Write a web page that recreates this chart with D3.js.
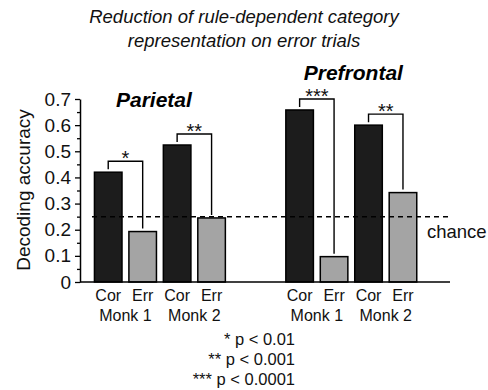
<!DOCTYPE html>
<html>
<head>
<meta charset="utf-8">
<script src="https://cdn.jsdelivr.net/npm/d3@7"></script>
<style>
  html, body { margin: 0; padding: 0; background: #fff; }
  svg { display: block; font-family: "Liberation Sans", Arial, Helvetica, sans-serif; }
</style>
</head>
<body>
<svg id="chart" width="488" height="390"></svg>
<script>
// Decoding accuracy for correct vs. error trials, per monkey and brain region
const regions = ["Parietal", "Prefrontal"];
const monkeys = ["Monk 1", "Monk 2"];
const trialTypes = ["Cor", "Err"];
const parietalValues = [0.42, 0.193, 0.524, 0.245];   // M1 Cor, M1 Err, M2 Cor, M2 Err
const prefrontalValues = [0.658, 0.097, 0.60, 0.342];
const significance = {Parietal: ["*", "**"], Prefrontal: ["***", "**"]};
const chanceLevel = 0.25;
const yTicks = [0, 0.1, 0.2, 0.3, 0.4, 0.5, 0.6, 0.7];
const yMinorTicks = [0.05, 0.15, 0.25, 0.35, 0.45, 0.55, 0.65];
const footnotes = ["* p < 0.01", "** p < 0.001", "*** p < 0.0001"];

const valuesByRegion = {Parietal: parietalValues, Prefrontal: prefrontalValues};
const barKeys = [];
monkeys.forEach(m => trialTypes.forEach(t => barKeys.push(m + "|" + t)));

const bars = [];
regions.forEach(r => valuesByRegion[r].forEach((v, i) => {
  const [monk, trial] = barKeys[i].split("|");
  bars.push({region: r, key: barKeys[i], monk, trial, value: v});
}));

const svg = d3.select("#chart");
const baseY = 282, topY = 99, axisX = 80, axisEnd = 450;

const y = d3.scaleLinear().domain([0, 0.7]).range([baseY, topY]);
const xRegion = d3.scaleBand().domain(regions).range([91, 420.2]).paddingInner(0.28).paddingOuter(0);
const xBar = d3.scaleBand().domain(barKeys).range([0, xRegion.bandwidth()]).paddingInner(0.2).paddingOuter(0.1);
const barX = d => xRegion(d.region) + xBar(d.key);
const barCx = d => barX(d) + xBar.bandwidth() / 2;

// Title
const title = svg.append("g").attr("font-style", "italic").attr("font-size", 18.5)
  .attr("fill", "#111").attr("text-anchor", "middle");
title.append("text").attr("x", 244).attr("y", 23).text("Reduction of rule-dependent category");
title.append("text").attr("x", 244).attr("y", 47).text("representation on error trials");

// Bars
svg.append("g").selectAll("rect").data(bars).join("rect")
  .attr("x", barX)
  .attr("y", d => y(d.value))
  .attr("width", xBar.bandwidth())
  .attr("height", d => y(0) - y(d.value))
  .attr("fill", d => d.trial === "Cor" ? "#1c1c1c" : "#a4a4a4")
  .attr("stroke", "#000")
  .attr("stroke-width", 1.5);

// Chance line
svg.append("line")
  .attr("x1", 92).attr("x2", axisEnd)
  .attr("y1", y(chanceLevel)).attr("y2", y(chanceLevel))
  .attr("stroke", "#000").attr("stroke-width", 1.5).attr("stroke-dasharray", "5,4");
svg.append("text").attr("x", 427).attr("y", 237.5).attr("font-size", 18.5).attr("fill", "#111").text("chance");

// Baseline
svg.append("line").attr("x1", axisX).attr("x2", axisEnd).attr("y1", baseY).attr("y2", baseY)
  .attr("stroke", "#000").attr("stroke-width", 1.5);

// Y axis with major and minor ticks
const yAxis = svg.append("g").attr("transform", `translate(${axisX},0)`)
  .call(d3.axisLeft(y).tickValues(yTicks).tickSize(5).tickSizeOuter(0).tickPadding(4)
    .tickFormat(d => d === 0 ? "0" : d3.format(".1f")(d)));
yAxis.select(".domain").attr("stroke-width", 1.5);
yAxis.selectAll(".tick line").attr("stroke-width", 1.3);
yAxis.selectAll("text").attr("font-size", 19).attr("fill", "#111").attr("font-family", null);
const yMinor = svg.append("g").attr("transform", `translate(${axisX},0)`)
  .call(d3.axisLeft(y).tickValues(yMinorTicks).tickSize(3).tickFormat(""));
yMinor.select(".domain").remove();
yMinor.selectAll(".tick line").attr("stroke-width", 1.3);

svg.append("text")
  .attr("transform", "translate(30,190) rotate(-90)")
  .attr("text-anchor", "middle").attr("font-size", 19).attr("fill", "#111")
  .text("Decoding accuracy");

// Region labels
svg.append("text").attr("x", xRegion("Parietal") + xRegion.bandwidth() / 2 - 6).attr("y", 106.5)
  .attr("text-anchor", "middle").attr("font-size", 21).attr("font-weight", "bold").attr("font-style", "italic")
  .text("Parietal");
svg.append("text").attr("x", xRegion("Prefrontal") + xRegion.bandwidth() / 2 + 2).attr("y", 80)
  .attr("text-anchor", "middle").attr("font-size", 21).attr("font-weight", "bold").attr("font-style", "italic")
  .text("Prefrontal");

// Significance brackets
const brackets = [];
regions.forEach(r => monkeys.forEach((m, mi) => {
  const cor = bars.find(b => b.region === r && b.monk === m && b.trial === "Cor");
  const err = bars.find(b => b.region === r && b.monk === m && b.trial === "Err");
  brackets.push({cor, err, label: significance[r][mi]});
}));
const bg = svg.append("g");
bg.selectAll("path").data(brackets).join("path")
  .attr("fill", "none").attr("stroke", "#000").attr("stroke-width", 1.4)
  .attr("d", d => {
    const x1 = barCx(d.cor), x2 = barCx(d.err);
    const top = y(d.cor.value) - 11;
    return `M${x1},${y(d.cor.value) - 3}V${top}H${x2}V${y(d.err.value) - 3}`;
  });
bg.selectAll("text").data(brackets).join("text")
  .attr("x", d => (barCx(d.cor) + barCx(d.err)) / 2)
  .attr("y", d => y(d.cor.value) - 11 + 4)
  .attr("text-anchor", "middle").attr("font-size", 20).attr("fill", "#111")
  .text(d => d.label);

// Category labels
svg.append("g").selectAll("text").data(bars).join("text")
  .attr("x", barCx).attr("y", 300.5)
  .attr("text-anchor", "middle").attr("font-size", 16).attr("fill", "#111")
  .text(d => d.trial);
const monkLabels = [];
regions.forEach(r => monkeys.forEach(m => monkLabels.push({region: r, monk: m})));
svg.append("g").selectAll("text").data(monkLabels).join("text")
  .attr("x", d => xRegion(d.region) + (xBar(d.monk + "|Cor") + xBar(d.monk + "|Err") + xBar.bandwidth()) / 2)
  .attr("y", 320.5)
  .attr("text-anchor", "middle").attr("font-size", 16).attr("fill", "#111")
  .text(d => d.monk);

// Significance legend
svg.append("g").selectAll("text").data(footnotes).join("text")
  .attr("x", 295).attr("y", (d, i) => 345.3 + i * 19.7)
  .attr("text-anchor", "end").attr("font-size", 16.5).attr("fill", "#111")
  .text(d => d);
</script>
</body>
</html>
